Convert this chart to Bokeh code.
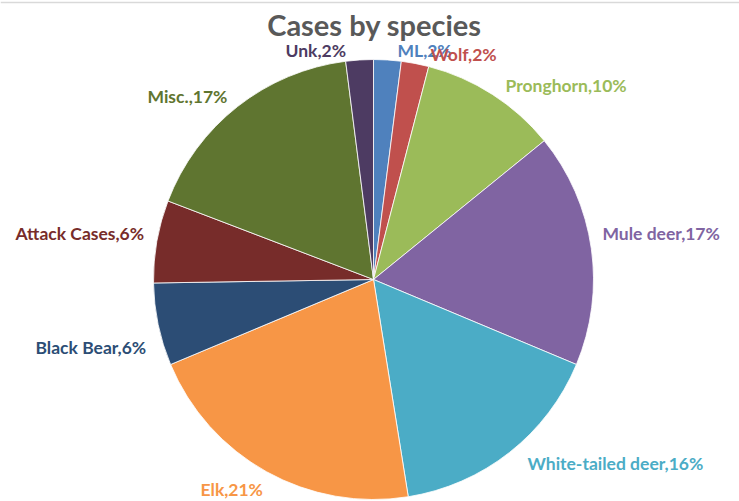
import math
from bokeh.plotting import figure
from bokeh.models import ColumnDataSource, Range1d
from bokeh.core.properties import value
from bokeh.embed import file_html
from bokeh.resources import INLINE

# ---- data ----
species = ["ML", "Wolf", "Pronghorn", "Mule deer", "White-tailed deer", "Elk",
           "Black Bear", "Attack Cases", "Misc.", "Unk"]
percent = [2, 2, 10, 17, 16, 21, 6, 6, 17, 2]
colors = ["#4F81BD", "#C0504D", "#9BBB59", "#8064A2", "#4BACC6", "#F79646",
          "#2C4D75", "#772C2A", "#5F7530", "#4D3B62"]
title_text = "Cases by species"

# ---- layout (pixel space, y measured from top) ----
W, H = 739, 501
CX, CY, R = 373, 279, 220
label_pos = {  # left x, centre y
    "Unk": (285, 50), "ML": (397, 50), "Wolf": (430, 54),
    "Pronghorn": (505, 85), "Mule deer": (602, 233),
    "White-tailed deer": (527, 463), "Elk": (200, 489),
    "Black Bear": (35, 347), "Attack Cases": (15, 233), "Misc.": (147, 96),
}

total = sum(percent)
starts, ends = [], []
acc = 0.0
for v in percent:
    a0 = math.pi / 2 - 2 * math.pi * acc / total
    acc += v
    a1 = math.pi / 2 - 2 * math.pi * acc / total
    starts.append(a0)
    ends.append(a1)

src = ColumnDataSource(dict(start=starts, end=ends, color=colors,
                            x=[CX] * len(percent), y=[H - CY] * len(percent)))

p = figure(width=W, height=H, output_backend="svg", toolbar_location=None,
           x_range=Range1d(0, W), y_range=Range1d(0, H), min_border=0)
p.axis.visible = False
p.grid.visible = False
p.outline_line_color = None
p.background_fill_color = "white"
p.border_fill_color = "white"

p.wedge(x="x", y="y", radius=R, start_angle="start", end_angle="end",
        direction="clock", fill_color="color", line_color="white",
        line_width=0.8, source=src)

lab = dict(x=[], y=[], text=[], color=[])
for name, v, c in zip(species, percent, colors):
    lx, ly = label_pos[name]
    lab["x"].append(lx)
    lab["y"].append(H - ly)
    lab["text"].append(f"{name},{v}%")
    lab["color"].append(c)
p.text(x="x", y="y", text="text", text_color="color", source=ColumnDataSource(lab),
       text_font=value("Lato"), text_font_style="bold", text_font_size="17.5px",
       text_align="left", text_baseline="middle")

p.text(x=[374], y=[H - 24], text=[title_text], text_color="#595959",
       text_font=value("Lato"), text_font_style="bold", text_font_size="29px",
       text_align="center", text_baseline="middle")

# thin grey page border at top
p.line(x=[0, W], y=[H - 2, H - 2], line_color="#d9d9d9", line_width=1.5)

open("out.html", "w").write(file_html(p, INLINE))
